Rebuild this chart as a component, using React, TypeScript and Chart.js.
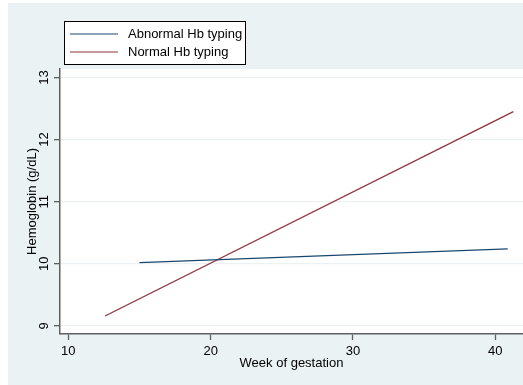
import React, { useEffect, useRef } from "react";
import { Chart, registerables } from "chart.js";

Chart.register(...registerables);

const seriesLabels = ["Abnormal Hb typing", "Normal Hb typing"];
const weeksAbnormal = [15.0, 40.87];
const hbAbnormal = [10.02, 10.24];
const weeksNormal = [12.58, 41.27];
const hbNormal = [9.16, 12.45];
const xTicks = [10, 20, 30, 40];
const yTicks = [9, 10, 11, 12, 13];

const BLUE = "#1a476f";
const RED = "#90353b";
const BG = "#eaf2f3";
const AXIS = "#606060";
const FONT = "'Liberation Sans', Arial, sans-serif";

const bgPlugin = {
  id: "bgPlugin",
  beforeDraw(chart: any) {
    const { ctx, chartArea } = chart;
    ctx.save();
    ctx.fillStyle = BG;
    ctx.fillRect(0, 0, chart.width, chart.height);
    ctx.fillStyle = "#ffffff";
    ctx.fillRect(chartArea.left, chartArea.top, chartArea.right - chartArea.left, chartArea.bottom - chartArea.top);
    ctx.restore();
  },
};

const legendPlugin = {
  id: "stataLegend",
  afterDraw(chart: any) {
    const { ctx } = chart;
    const bx = 56, by = 18, bw = 181, bh = 43;
    ctx.save();
    ctx.fillStyle = "#ffffff";
    ctx.fillRect(bx, by, bw, bh);
    ctx.strokeStyle = "#000000";
    ctx.lineWidth = 1;
    ctx.strokeRect(bx + 0.5, by + 0.5, bw, bh);
    const rows = [31, 49];
    chart.data.datasets.forEach((ds: any, i: number) => {
      const y = rows[i];
      ctx.strokeStyle = ds.borderColor;
      ctx.lineWidth = 1.2;
      ctx.beginPath();
      ctx.moveTo(62, y);
      ctx.lineTo(110, y);
      ctx.stroke();
      ctx.fillStyle = "#000000";
      ctx.font = `13px ${FONT}`;
      ctx.textBaseline = "middle";
      ctx.textAlign = "left";
      ctx.fillText(ds.label, 120, y);
    });
    ctx.restore();
  },
};

export default function App() {
  const ref = useRef<HTMLCanvasElement | null>(null);
  useEffect(() => {
    if (!ref.current) return;
    const chart = new Chart(ref.current, {
      type: "scatter",
      data: {
        datasets: [
          {
            label: seriesLabels[0],
            data: weeksAbnormal.map((x, i) => ({ x, y: hbAbnormal[i] })),
            showLine: true,
            borderColor: BLUE,
            backgroundColor: BLUE,
            borderWidth: 1.3,
            pointRadius: 0,
          },
          {
            label: seriesLabels[1],
            data: weeksNormal.map((x, i) => ({ x, y: hbNormal[i] })),
            showLine: true,
            borderColor: RED,
            backgroundColor: RED,
            borderWidth: 1.3,
            pointRadius: 0,
          },
        ],
      },
      options: {
        animation: false,
        responsive: false,
        maintainAspectRatio: false,
        layout: { padding: { top: 66, left: 0, right: 0, bottom: 0 } },
        plugins: { legend: { display: false }, tooltip: { enabled: false } },
        scales: {
          x: {
            type: "linear",
            min: 9.417,
            max: 41.947,
            afterBuildTicks: (s: any) => {
              s.ticks = xTicks.map((v) => ({ value: v }));
            },
            afterFit: (s: any) => {
              s.height = 51;
            },
            grid: { color: "transparent", tickColor: AXIS, tickLength: 6, drawTicks: true, tickWidth: 1.3 },
            border: { color: AXIS, width: 1.5 },
            ticks: { color: "#000", font: { family: FONT, size: 13 }, padding: 4, maxRotation: 0, minRotation: 0 },
            title: {
              display: true,
              text: "Week of gestation",
              color: "#000",
              font: { family: FONT, size: 13 },
              padding: { top: 0, bottom: 14 },
            },
          },
          y: {
            type: "linear",
            min: 8.87,
            max: 13.137,
            afterBuildTicks: (s: any) => {
              s.ticks = yTicks.map((v) => ({ value: v }));
            },
            afterFit: (s: any) => {
              s.width = 52;
            },
            grid: { color: BG, lineWidth: 1.3, tickColor: AXIS, tickLength: 6, drawTicks: true, tickWidth: 1.3 },
            border: { color: AXIS, width: 1.5 },
            ticks: {
              color: "#000",
              font: { family: FONT, size: 13 },
              padding: 2,
              minRotation: 90,
              maxRotation: 90,
              crossAlign: "center",
            },
            title: {
              display: true,
              text: "Hemoglobin (g/dL)",
              color: "#000",
              font: { family: FONT, size: 13 },
              padding: { top: 17, bottom: 0 },
            },
          },
        },
      },
      plugins: [bgPlugin, legendPlugin],
    } as any);
    return () => chart.destroy();
  }, []);
  return (
    <div style={{ position: "fixed", left: 8, top: 3, width: 515, height: 382 }}>
      <canvas ref={ref} width={515} height={382} style={{ display: "block" }} />
    </div>
  );
}
